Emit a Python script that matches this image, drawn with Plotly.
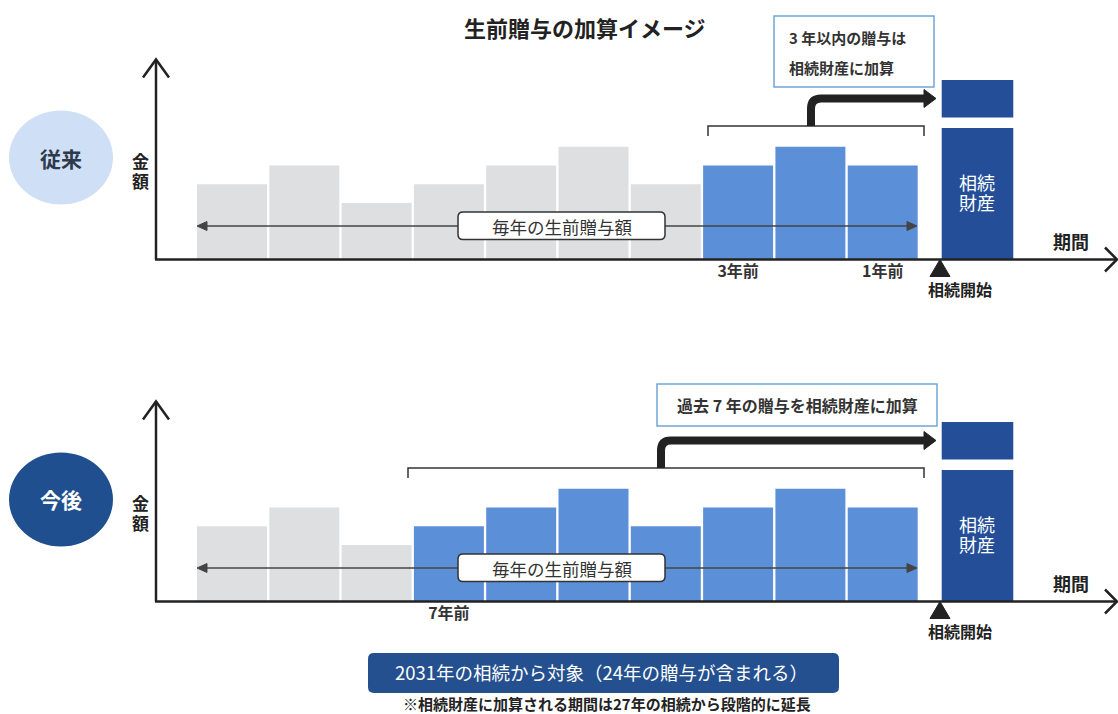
import plotly.graph_objects as go

# ---------------- data ----------------
year_labels = ["10年前", "9年前", "8年前", "7年前", "6年前", "5年前", "4年前", "3年前", "2年前", "1年前"]
gift_amounts = [4, 5, 3, 4, 5, 6, 4, 5, 6, 5]          # 毎年の生前贈与額 (relative units)
estate_amount = [7]                                      # 相続財産
added_amount = [2]                                       # 加算される贈与
top_years_added = 3                                      # 従来: 3年以内
bottom_years_added = 7                                   # 今後: 過去7年
top_tick_labels = ["3年前", "1年前"]
bottom_tick_labels = ["7年前"]

# ---------------- geometry helpers (pixel -> axis / paper) ----------------
W, H = 1118, 714
PITCH = 72.3
X0PX = 232.0
UNIT = 18.8


def X(px):
    return 1 + (px - X0PX) / PITCH


def PX(px):
    return px / W


def PY(py):
    return 1 - py / H


GREY = "#dedfe1"
BLUE = "#5b8fd8"
NAVY = "#244f98"
DARK = "#222222"
FONT = "Noto Sans CJK JP"

gift_x = list(range(1, len(gift_amounts) + 1))
estate_x = [X(977.5)]
gap = 0.55

top_colors = [BLUE if i >= len(gift_amounts) - top_years_added else GREY for i in range(len(gift_amounts))]
bot_colors = [BLUE if i >= len(gift_amounts) - bottom_years_added else GREY for i in range(len(gift_amounts))]

fig = go.Figure()

for colors, xa, ya in [(top_colors, "x", "y"), (bot_colors, "x2", "y2")]:
    fig.add_trace(go.Bar(x=gift_x, y=gift_amounts, width=0.968, marker=dict(color=colors, line_width=0),
                         xaxis=xa, yaxis=ya, hoverinfo="skip", showlegend=False))
    fig.add_trace(go.Bar(x=estate_x, y=estate_amount, width=0.99, marker=dict(color=NAVY, line_width=0),
                         xaxis=xa, yaxis=ya, hoverinfo="skip", showlegend=False))
    fig.add_trace(go.Bar(x=estate_x, y=added_amount, base=[estate_amount[0] + gap], width=0.99,
                         marker=dict(color=NAVY, line_width=0),
                         xaxis=xa, yaxis=ya, hoverinfo="skip", showlegend=False))

xr = [X(0), X(W)]
top_base, bot_base = 259.5, 601.5
yr = [0, 11]


def ydom(base):
    return [PY(base), PY(base - yr[1] * UNIT)]


def tick_idx(labels):
    return [gift_x[year_labels.index(l)] for l in labels]


axis_common = dict(range=xr, domain=[0, 1], showgrid=False, zeroline=False, showline=False,
                   ticks="", tickfont=dict(family=FONT, size=16, color="#333333"))
fig.update_layout(
    xaxis=dict(**axis_common, anchor="y", tickvals=tick_idx(top_tick_labels),
               ticktext=["<b>%s</b>" % t for t in top_tick_labels]),
    xaxis2=dict(**axis_common, anchor="y2", tickvals=tick_idx(bottom_tick_labels),
                ticktext=["<b>%s</b>" % t for t in bottom_tick_labels]),
    yaxis=dict(domain=ydom(top_base), range=yr, visible=False),
    yaxis2=dict(domain=ydom(bot_base), range=yr, visible=False),
    barmode="overlay",
    width=W, height=H, margin=dict(l=0, r=0, t=0, b=0, pad=0),
    paper_bgcolor="white", plot_bgcolor="white",
    font=dict(family=FONT, color=DARK),
)

shapes = []
annots = []


def path(points, close=False):
    s = "M " + " L ".join("%.5f,%.5f" % (PX(a), PY(b)) for a, b in points)
    return s + (" Z" if close else "")


def rrect(x0, y0, x1, y1, r):
    rx = r
    p = ("M %f,%f L %f,%f Q %f,%f %f,%f L %f,%f Q %f,%f %f,%f L %f,%f Q %f,%f %f,%f L %f,%f Q %f,%f %f,%f Z" % (
        PX(x0 + rx), PY(y0), PX(x1 - rx), PY(y0), PX(x1), PY(y0), PX(x1), PY(y0 + r),
        PX(x1), PY(y1 - r), PX(x1), PY(y1), PX(x1 - rx), PY(y1),
        PX(x0 + rx), PY(y1), PX(x0), PY(y1), PX(x0), PY(y1 - r),
        PX(x0), PY(y0 + r), PX(x0), PY(y0), PX(x0 + rx), PY(y0)))
    return p


def text(x, y, t, size, color=DARK, bold=False, xanchor="center"):
    annots.append(dict(x=PX(x), y=PY(y), xref="paper", yref="paper", text=("<b>%s</b>" % t) if bold else t,
                       showarrow=False, xanchor=xanchor, yanchor="middle",
                       font=dict(family=FONT, size=size, color=color)))


# title
text(585, 27, "生前贈与の加算イメージ", 22, bold=True)


def panel(base, circle_label, circle_fill, circle_text_color, bracket_left, box, box_lines, box_left_align):
    # axes
    shapes.append(dict(type="line", xref="paper", yref="paper", x0=PX(156), x1=PX(156),
                       y0=PY(base), y1=PY(base - 200), line=dict(color=DARK, width=2.5)))
    shapes.append(dict(type="path", xref="paper", yref="paper",
                       path=path([(143, base - 182), (156, base - 200), (169, base - 182)]),
                       line=dict(color=DARK, width=2.5)))
    shapes.append(dict(type="line", xref="paper", yref="paper", x0=PX(155), x1=PX(1116),
                       y0=PY(base), y1=PY(base), line=dict(color=DARK, width=2.5)))
    shapes.append(dict(type="path", xref="paper", yref="paper",
                       path=path([(1105, base - 12), (1117, base), (1105, base + 12)]),
                       line=dict(color=DARK, width=2.5)))
    # circle label
    cy = base - 102
    shapes.append(dict(type="circle", xref="paper", yref="paper", x0=PX(9), x1=PX(113),
                       y0=PY(cy - 47), y1=PY(cy + 47), fillcolor=circle_fill, line=dict(width=0)))
    text(61, cy, circle_label, 21, color=circle_text_color, bold=True)
    # 金額 (vertical)
    text(140, base - 99, "金", 17, bold=True)
    text(140, base - 79, "額", 17, bold=True)
    # 期間
    text(1071, base - 19, "期間", 18, bold=True)
    # triangle + 相続開始
    shapes.append(dict(type="path", xref="paper", yref="paper",
                       path=path([(930, base + 17), (940, base), (950, base + 17)], close=True),
                       fillcolor=DARK, line=dict(color=DARK, width=1)))
    text(960, base + 29.5, "相続開始", 16, bold=True)
    # 相続財産 label inside bar
    text(977, base - 77.5, "相続", 18, color="white")
    text(977, base - 57.5, "財産", 18, color="white")
    # double arrow 毎年の生前贈与額
    ay = base - 33.5
    shapes.append(dict(type="line", xref="paper", yref="paper", x0=PX(205), x1=PX(910),
                       y0=PY(ay), y1=PY(ay), line=dict(color="#444444", width=1.3)))
    shapes.append(dict(type="path", xref="paper", yref="paper",
                       path=path([(207, ay - 4.5), (197, ay), (207, ay + 4.5)], close=True),
                       fillcolor="#444444", line=dict(color="#444444", width=1)))
    shapes.append(dict(type="path", xref="paper", yref="paper",
                       path=path([(907, ay - 4.5), (917, ay), (907, ay + 4.5)], close=True),
                       fillcolor="#444444", line=dict(color="#444444", width=1)))
    shapes.append(dict(type="path", xref="paper", yref="paper", path=rrect(458, ay - 14, 665, ay + 13.5, 5),
                       fillcolor="white", line=dict(color="#333333", width=1.5)))
    text(561.5, ay, "毎年の生前贈与額", 17.5, color="#333333")
    # bracket
    by = base - 133.5
    shapes.append(dict(type="path", xref="paper", yref="paper",
                       path=path([(bracket_left, by + 10), (bracket_left, by), (924, by), (924, by + 10)]),
                       line=dict(color="#333333", width=1.5)))
    # thick arrow
    mx = (bracket_left + 924) / 2 - 5
    hy = base - 161
    shapes.append(dict(type="path", xref="paper", yref="paper",
                       path="M %f,%f L %f,%f Q %f,%f %f,%f L %f,%f" % (
                           PX(mx), PY(by), PX(mx), PY(hy + 10), PX(mx), PY(hy), PX(mx + 10), PY(hy),
                           PX(926), PY(hy)),
                       line=dict(color=DARK, width=8)))
    shapes.append(dict(type="path", xref="paper", yref="paper",
                       path=path([(924, hy - 9), (936, hy), (924, hy + 9)], close=True),
                       fillcolor=DARK, line=dict(color=DARK, width=1)))
    # explanation box
    x0, y0, x1, y1 = box
    shapes.append(dict(type="rect", xref="paper", yref="paper", x0=PX(x0), x1=PX(x1), y0=PY(y0), y1=PY(y1),
                       fillcolor="white", line=dict(color="#6fa6d6", width=1.5)))
    for (tx, ty, t, sz) in box_lines:
        text(tx, ty, t, sz, color="#333333", bold=True, xanchor="left" if box_left_align else "center")


panel(top_base, "従来", "#cfe0f6", "#2e3a4c", 708, (774, 16, 934, 87),
      [(787, 37, "3 年以内の贈与は", 15), (787, 67, "相続財産に加算", 15)], True)
panel(bot_base, "今後", "#1f4f8f", "white", 408, (657, 384, 937, 426),
      [(797, 405, "過去 7 年の贈与を相続財産に加算", 16)], False)

# bottom banner + footnote
shapes.append(dict(type="path", xref="paper", yref="paper", path=rrect(368, 653, 839, 693, 6),
                   fillcolor="#24508f", line=dict(width=0)))
text(601, 672, "2031年の相続から対象（24年の贈与が含まれる）", 18.5, color="white")
text(607, 703.5, "※相続財産に加算される期間は27年の相続から段階的に延長", 15, bold=True)

fig.update_layout(shapes=shapes, annotations=annots)

fig.write_html("out.html", config={"displayModeBar": False},
               post_script="document.body.style.margin='0';")
